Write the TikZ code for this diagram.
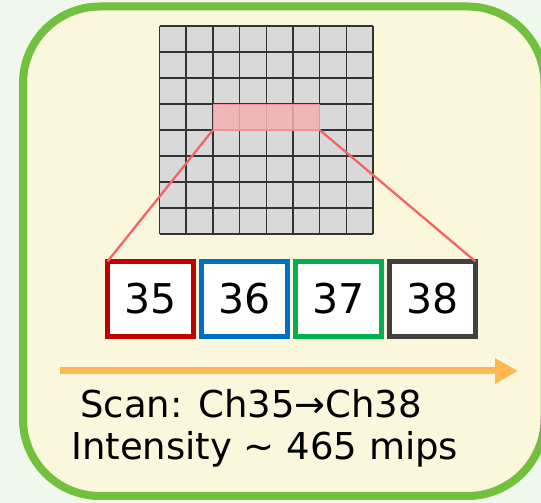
\documentclass[tikz,border=0pt]{standalone}
\usepackage{fontspec}
\setmainfont{DejaVu Sans}
\usepackage{xcolor}
\usepackage{tikz}
\usetikzlibrary{positioning, arrows.meta, calc}
\definecolor{bgGreen}{HTML}{F0F7EC}
\definecolor{panelGreen}{HTML}{72C13E}
\definecolor{panelFill}{HTML}{FAF7DC}
\definecolor{gridGray}{HTML}{D9D9D9}
\definecolor{hlPink}{HTML}{F6B0B0}
\definecolor{linkRed}{HTML}{F46464}
\definecolor{chRed}{HTML}{C00000}
\definecolor{chBlue}{HTML}{0070C0}
\definecolor{chGreen}{HTML}{00B050}
\definecolor{chGray}{HTML}{404040}
\definecolor{scanOrange}{HTML}{FFB850}

\begin{document}
\begin{tikzpicture}[
        x=1pt, y=1pt, node distance=8pt,
        chbox/.style={draw, line width=5pt, fill=white, minimum width=86pt, minimum height=75pt,
              inner sep=0pt, outer sep=0pt, font=\fontsize{41}{49}\selectfont},
        gridln/.style={draw=black!80, line width=1.5pt},
        hlcell/.style={fill=hlPink, fill opacity=.85, draw=linkRed!70, line width=.6pt,
              minimum width=106.8pt, minimum height=26pt, inner sep=0pt, outer sep=0pt},
        link/.style={draw=linkRed, line width=2.3pt},
        txt/.style={font=\fontsize{37}{44}\selectfont, inner sep=0pt, anchor=base west},
        scanarr/.style={draw=scanOrange, line width=7pt, -{Triangle[length=23pt, width=24pt]}}]
        \path[use as bounding box, clip] (0,0) rectangle (541,503);
        \fill[bgGreen] (0,0) rectangle (541,503);
        \draw[panelGreen, line width=8pt, fill=panelFill, rounded corners=77pt] (23,7) rectangle (544.5,496.5);
        \fill[gridGray] (159.5,269) rectangle (373,477);
        \foreach \i in {0,...,8} {
          \draw[gridln] ({159.5+26.69*\i},269) -- ({159.5+26.69*\i},477);
          \draw[gridln] (159.5,{269+26*\i}) -- (373,{269+26*\i});
        }
        \node[hlcell] (scan) at (266.3,386) {};
        \node[chbox, draw=chRed] (c35) at (150.5,204) {35};
        \node[chbox, draw=chBlue, right=of c35] (c36) {36};
        \node[chbox, draw=chGreen, right=of c36] (c37) {37};
        \node[chbox, draw=chGray, right=of c37] (c38) {38};
        \coordinate (scanfrom) at (60,132);
        \coordinate (scanto) at (518,132);
        \node[txt] (scantxt) at (80,85) {Scan: Ch35→Ch38};
        \node[txt] (inttxt) at (71,43) {Intensity \textasciitilde{} 465 mips};
        \draw[link] (scan.south west) -- (c35.north west); \draw[link] (scan.south east) -- (c38.north east);
        \draw[scanarr] (scanfrom) -- (scanto);
      \end{tikzpicture}
\end{document}
